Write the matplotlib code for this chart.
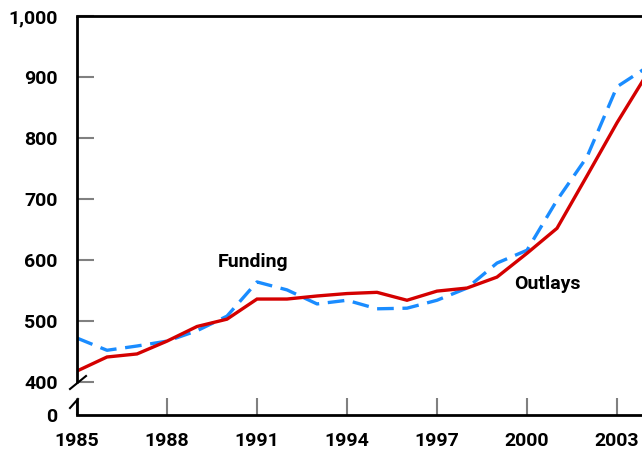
import matplotlib
matplotlib.use("Agg")
import matplotlib.pyplot as plt

years = list(range(1985, 2005))
funding = [472, 452, 459, 467, 484, 508, 564, 551, 528, 534, 520, 521, 534, 554, 595, 616,
           698, 769, 884, 916]
outlays = [418, 441, 446, 467, 491, 503, 536, 536, 541, 545, 547, 534, 549, 554, 572, 611,
           652, 738, 825, 905]
xticks = [1985, 1988, 1991, 1994, 1997, 2000, 2003]
yticks = [400, 500, 600, 700, 800, 900, 1000]
ytick_labels = ["400", "500", "600", "700", "800", "900", "1,000"]
zero_label = "0"

W, H = 642, 453
fig = plt.figure(figsize=(W / 100, H / 100), dpi=100)
plt.rcParams['font.family'] = ['Roboto', 'DejaVu Sans']

left_px, right_px, top_px, bottom_px = 77, 642, 16, 415
ax = fig.add_axes([left_px / W, (H - bottom_px) / H, (right_px - left_px) / W,
                   (bottom_px - top_px) / H])
px_per_year = 30.0
px_per_unit = 0.61
ymin = 1000 - (bottom_px - top_px) / px_per_unit
ax.set_xlim(1985, 1985 + (right_px - left_px) / px_per_year)
ax.set_ylim(ymin, 1000)

blue = "#1a8cff"
red = "#d40000"
ax.plot(years, funding, color=blue, lw=2.4, linestyle=(0, (5.0, 2.6)),
        solid_capstyle="butt", dash_capstyle="butt")
ax.plot(years, outlays, color=red, lw=2.4, solid_joinstyle="miter")

ax.set_xticks(xticks)
ax.set_xticklabels([str(x) for x in xticks])
ax.set_yticks([ymin] + yticks)
ax.set_yticklabels([zero_label] + ytick_labels)

ax.tick_params(axis="both", direction="in", length=12, width=1.5, color="#808080",
               labelsize=14)
ax.tick_params(axis="y", pad=14)
ax.tick_params(axis="x", pad=12)
ax.yaxis.get_major_ticks()[0].tick1line.set_visible(False)
for lab in ax.get_xticklabels() + ax.get_yticklabels():
    lab.set_fontweight("bold")

ax.spines["right"].set_visible(False)
ax.spines["left"].set_visible(False)
ax.spines["top"].set_linewidth(2)
ax.spines["bottom"].set_linewidth(2)

# broken left axis
def yv(py):
    return 1000 - (py - top_px) / px_per_unit

def xa(px):
    return (px - left_px) / (right_px - left_px)

tr = ax.get_yaxis_transform()
ax.plot([0, 0], [yv(383), 1000], color="black", lw=2, transform=tr, clip_on=False,
        solid_capstyle="butt")
ax.plot([0, 0], [ymin, yv(399)], color="black", lw=2, transform=tr, clip_on=False,
        solid_capstyle="butt")
ax.plot([xa(70), xa(86)], [yv(389), yv(376)], color="black", lw=1.5, transform=tr,
        clip_on=False)
ax.plot([xa(70), xa(78)], [yv(408), yv(399)], color="black", lw=1.5, transform=tr,
        clip_on=False)

ax.text(1991 - 4 / 30, yv(262), "Funding", ha="center", va="center", fontsize=14,
        fontweight="bold")
ax.text(2000 + 20 / 30, yv(284), "Outlays", ha="center", va="center", fontsize=14,
        fontweight="bold")

fig.savefig("out.png", dpi=100)
